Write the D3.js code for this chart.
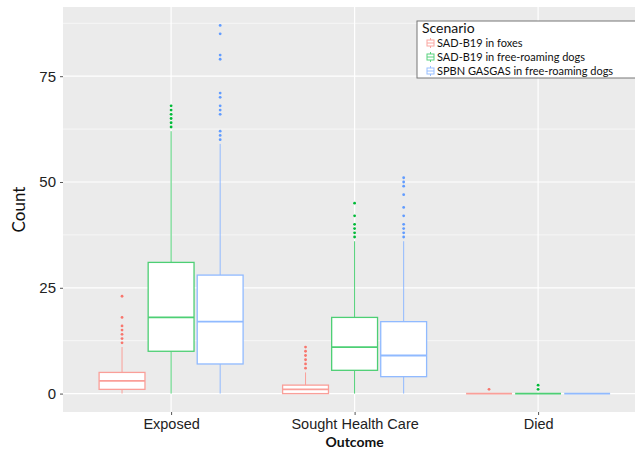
<!DOCTYPE html>
<html><head><meta charset="utf-8">
<script src="https://cdn.jsdelivr.net/npm/d3@7"></script>
<style>body{margin:0;background:#fff}svg{display:block;font-family:Lato,"Open Sans",sans-serif}</style>
</head><body><svg id="c" width="635" height="452"></svg>
<script>
const categories = ["Exposed", "Sought Health Care", "Died"];
const scenarios = ["SAD-B19 in foxes", "SAD-B19 in free-roaming dogs", "SPBN GASGAS in free-roaming dogs"];
const colors = ["#F8766D", "#00BA38", "#619CFF"];
const yTicks = [0, 25, 50, 75];
// [lower whisker, Q1, median, Q3, upper whisker] per category
const foxesStats  = [[0, 1, 3, 5, 11], [0, 0, 1, 2, 5], [0, 0, 0, 0, 0]];
const dogsStats   = [[0, 10, 18, 31, 62], [0, 5.5, 11, 18, 36], [0, 0, 0, 0, 0]];
const gasgasStats = [[0, 7, 17, 28, 59], [0, 4, 9, 17, 36], [0, 0, 0, 0, 0]];
const foxesOut  = [[12, 13, 14, 15, 16, 18, 23], [6, 7, 8, 9, 10, 11], [1]];
const dogsOut   = [[63, 64, 65, 66, 67, 68], [37, 38, 39, 40, 42, 45], [1, 2]];
const gasgasOut = [[60, 61, 62, 66, 67, 68, 70, 71, 79, 80, 85, 87], [37, 38, 39, 40, 42, 44, 47, 49, 50, 51], []];

const statsBy = [foxesStats, dogsStats, gasgasStats];
const outBy = [foxesOut, dogsOut, gasgasOut];

const svg = d3.select("#c");
const P = {l: 63, t: 7, b: 412, unit: 183.5};
const x = d3.scalePoint().domain(categories).range([P.l - 2, P.l - 2 + 3.2 * P.unit]).padding(0.6);
const dodge = d3.scaleBand().domain(scenarios).range([-72, 72]).paddingInner(0.065);
const y = d3.scaleLinear().domain([-4.35, 91.35]).range([P.b, P.t]);

svg.append("rect").attr("x", P.l).attr("y", P.t).attr("width", 635 - P.l).attr("height", P.b - P.t).attr("fill", "#EBEBEB");
const g = svg.append("g");
// minor grid
[12.5, 37.5, 62.5, 87.5].forEach(v => g.append("line").attr("x1", P.l).attr("x2", 635).attr("y1", y(v)).attr("y2", y(v)).attr("stroke", "#fff").attr("stroke-width", 0.6));
yTicks.forEach(v => g.append("line").attr("x1", P.l).attr("x2", 635).attr("y1", y(v)).attr("y2", y(v)).attr("stroke", "#fff").attr("stroke-width", 1.2));
categories.forEach(c => g.append("line").attr("x1", x(c)).attr("x2", x(c)).attr("y1", P.t).attr("y2", P.b).attr("stroke", "#fff").attr("stroke-width", 1.2));

// boxes
scenarios.forEach((s, si) => {
  const col = colors[si];
  const light = d3.interpolateRgb(col, "#ffffff")(0.3);
  categories.forEach((c, ci) => {
    const [lo, q1, med, q3, hi] = statsBy[si][ci];
    const x0 = x(c) + dodge(s), w = dodge.bandwidth(), cx = x0 + w / 2;
    g.append("line").attr("x1", cx).attr("x2", cx).attr("y1", y(q3)).attr("y2", y(hi)).attr("stroke", light).attr("stroke-width", 1);
    g.append("line").attr("x1", cx).attr("x2", cx).attr("y1", y(q1)).attr("y2", y(lo)).attr("stroke", light).attr("stroke-width", 1);
    g.append("rect").attr("x", x0).attr("y", y(q3)).attr("width", w).attr("height", Math.max(0, y(q1) - y(q3)))
      .attr("fill", "#fff").attr("stroke", light).attr("stroke-width", 1.3);
    g.append("line").attr("x1", x0).attr("x2", x0 + w).attr("y1", y(med)).attr("y2", y(med)).attr("stroke", light).attr("stroke-width", 1.8);
    outBy[si][ci].forEach(v => g.append("circle").attr("cx", cx).attr("cy", y(v)).attr("r", 1.4).attr("fill", col));
  });
});

// axes
const ya = svg.append("g").attr("transform", `translate(${P.l},0)`)
  .call(d3.axisLeft(y).tickValues(yTicks).tickSize(3).tickPadding(4));
ya.select(".domain").remove();
ya.selectAll("line").attr("stroke", "#555");
ya.selectAll("text").attr("font-size", 15).attr("fill", "#222");
const xa = svg.append("g").attr("transform", `translate(0,${P.b})`)
  .call(d3.axisBottom(x).tickSize(3).tickPadding(4));
xa.select(".domain").remove();
xa.selectAll("line").attr("stroke", "#555");
xa.selectAll("text").attr("font-size", 14.5).attr("fill", "#222");

svg.append("text").attr("transform", `translate(25,${(P.t + P.b) / 2}) rotate(-90)`).attr("text-anchor", "middle")
  .attr("font-size", 17).attr("fill", "#111").text("Count");
svg.append("text").attr("x", x(categories[1])).attr("y", 447).attr("text-anchor", "middle")
  .attr("font-size", 14).attr("font-weight", "bold").attr("fill", "#111").text("Outcome");

// legend
const lg = svg.append("g").attr("transform", "translate(417,21)");
lg.append("rect").attr("width", 230).attr("height", 57).attr("fill", "#fff").attr("stroke", "#777").attr("stroke-width", 1);
lg.append("text").attr("x", 5).attr("y", 11.5).attr("font-size", 14).attr("fill", "#111").text("Scenario");
scenarios.forEach((s, i) => {
  const yy = 16 + i * 14;
  const light = d3.interpolateRgb(colors[i], "#ffffff")(0.35);
  const k = lg.append("g").attr("transform", `translate(10,${yy})`);
  k.append("line").attr("x1", 3.5).attr("x2", 3.5).attr("y1", 1).attr("y2", 11).attr("stroke", light);
  k.append("rect").attr("x", 0).attr("y", 3).attr("width", 7).attr("height", 6).attr("fill", "#fff").attr("stroke", light);
  k.append("line").attr("x1", 0).attr("x2", 7).attr("y1", 6).attr("y2", 6).attr("stroke", light);
  lg.append("text").attr("x", 20).attr("y", yy + 10).attr("font-size", 11).attr("fill", "#111").text(s);
});
</script></body></html>
